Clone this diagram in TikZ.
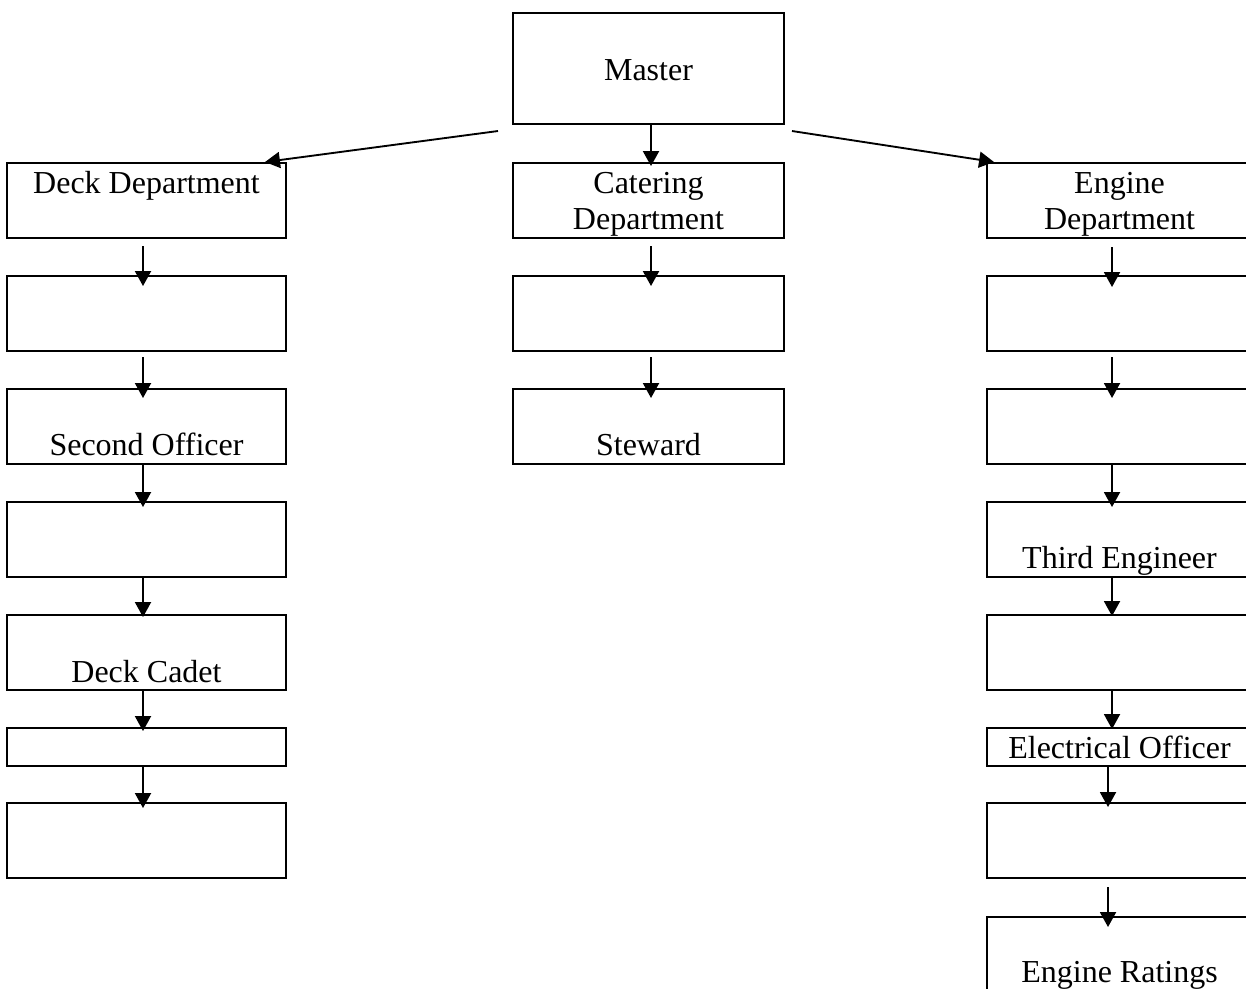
\documentclass[tikz,border=0pt]{standalone}
\usepackage{fontspec}
\setmainfont{Liberation Serif}
\usetikzlibrary{arrows.meta,calc}

\begin{document}
\begin{tikzpicture}[x=0.375pt,y=-0.375pt,
    font=\fontsize{12}{14}\selectfont,
    box/.style={draw, line width=1pt, inner sep=0pt, outer sep=0pt, minimum height=28.125pt},
    deckbox/.style={box, minimum width=104.625pt},
    catbox/.style={box, minimum width=101.625pt},
    engbox/.style={box, minimum width=99.375pt},
    txt/.style={anchor=base, inner sep=0pt},
    arr/.style={-{Triangle[length=5.6pt,width=6pt]}, line width=0.7pt}]
    \useasboundingbox (0,0) rectangle (1246,988);

    % master
    \node[catbox, minimum height=41.625pt] (m0) at (648.5,68.5) {};
    \node[txt] (m0t) at (648.5,80) {Master};

    % deck department
    \node[deckbox] (d1) at (146.5,200.5) {};
    \node[txt] (d1t) at (146.5,193) {Deck Department};
    \node[deckbox] (d2) at (146.5,313.5) {};
    \node[deckbox] (d3) at (146.5,426.5) {};
    \node[txt] (d3t) at (146.5,455) {Second Officer};
    \node[deckbox] (d4) at (146.5,539.5) {};
    \node[deckbox] (d5) at (146.5,652.5) {};
    \node[txt] (d5t) at (146.5,682) {Deck Cadet};
    \node[deckbox, minimum height=14.25pt] (d6) at (146.5,747) {};
    \node[deckbox] (d7) at (146.5,840.5) {};

    % catering department
    \node[catbox] (c1) at (648.5,200.5) {};
    \node[txt] (c1t) at (648.5,193) {Catering};
    \node[txt] (c1u) at (648.5,229) {Department};
    \node[catbox] (c2) at (648.5,313.5) {};
    \node[catbox] (c3) at (648.5,426.5) {};
    \node[txt] (c3t) at (648.5,455) {Steward};

    % engine department
    \node[engbox] (e1) at (1119.5,200.5) {};
    \node[txt] (e1t) at (1119.5,193) {Engine};
    \node[txt] (e1u) at (1119.5,229) {Department};
    \node[engbox] (e2) at (1119.5,313.5) {};
    \node[engbox] (e3) at (1119.5,426.5) {};
    \node[engbox] (e4) at (1119.5,539.5) {};
    \node[txt] (e4t) at (1119.5,568) {Third Engineer};
    \node[engbox] (e5) at (1119.5,652.5) {};
    \node[engbox, minimum height=14.25pt] (e6) at (1119.5,747) {};
    \node[txt] (e6t) at (1119.5,758) {Electrical Officer};
    \node[engbox] (e7) at (1119.5,840.5) {};
    \node[engbox] (e8) at (1119.5,954.5) {};
    \node[txt] (e8t) at (1119.5,982) {Engine Ratings};

    % master to departments
    \draw[arr] ($(m0.south west)+(-15,7)$) -- ($(d1.north east)+(-21,-1)$);
    \draw[arr] ($(m0.south)+(2.5,0)$) -- ($(c1.north)+(2.5,3)$);
    \draw[arr] ($(m0.south east)+(8,7)$) -- ($(e1.north west)+(7,-1)$);

    % deck chain
    \draw[arr] ($(d1.south)+(-3.5,8)$) -- ($(d2.north)+(-3.5,10)$);
    \draw[arr] ($(d2.south)+(-3.5,6)$) -- ($(d3.north)+(-3.5,9)$);
    \draw[arr] ($(d3.south)+(-3.5,0)$) -- ($(d4.north)+(-3.5,5)$);
    \draw[arr] ($(d4.south)+(-3.5,0)$) -- ($(d5.north)+(-3.5,2)$);
    \draw[arr] ($(d5.south)+(-3.5,0)$) -- ($(d6.north)+(-3.5,3)$);
    \draw[arr] ($(d6.south)+(-3.5,0)$) -- ($(d7.north)+(-3.5,5)$);

    % catering chain
    \draw[arr] ($(c1.south)+(2.5,8)$) -- ($(c2.north)+(2.5,10)$);
    \draw[arr] ($(c2.south)+(2.5,6)$) -- ($(c3.north)+(2.5,9)$);

    % engine chain
    \draw[arr] ($(e1.south)+(-7.5,9)$) -- ($(e2.north)+(-7.5,11)$);
    \draw[arr] ($(e2.south)+(-7.5,6)$) -- ($(e3.north)+(-7.5,9)$);
    \draw[arr] ($(e3.south)+(-7.5,0)$) -- ($(e4.north)+(-7.5,5)$);
    \draw[arr] ($(e4.south)+(-7.5,0)$) -- ($(e5.north)+(-7.5,1)$);
    \draw[arr] ($(e5.south)+(-7.5,0)$) -- ($(e6.north)+(-7.5,1)$);
    \draw[arr] ($(e6.south)+(-11.5,0)$) -- ($(e7.north)+(-11.5,4)$);
    \draw[arr] ($(e7.south)+(-11.5,9)$) -- ($(e8.north)+(-11.5,10)$);
\end{tikzpicture}
\end{document}
